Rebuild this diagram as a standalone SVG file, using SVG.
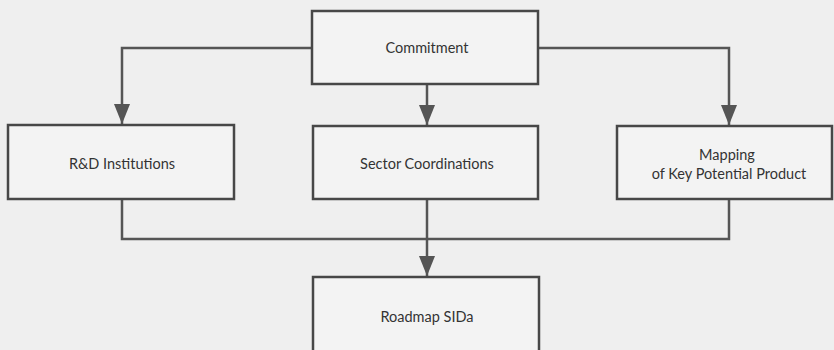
<svg xmlns="http://www.w3.org/2000/svg" width="834" height="350" viewBox="0 0 834 350">
<defs>
<marker id="ah" markerWidth="22" markerHeight="18" refX="20" refY="8" orient="auto" markerUnits="userSpaceOnUse">
<path d="M0,0 L20,8 L0,16 Z" fill="#555"/>
</marker>
<style>
.box{fill:#f3f3f3;stroke:#474747;stroke-width:2.5}
.lbl{font-family:Lato,"Open Sans",sans-serif;font-size:14.5px;fill:#333;text-anchor:middle}
.con{fill:none;stroke:#555;stroke-width:2.5}
</style>
</defs>
<rect width="834" height="350" fill="#efefef"/>
<g id="connectors">
<path class="con" d="M312,48 H122 V124" marker-end="url(#ah)"/>
<path class="con" d="M427,84 V125" marker-end="url(#ah)"/>
<path class="con" d="M538,48 H729 V125" marker-end="url(#ah)"/>
<path class="con" d="M122,199 V239 H729 V199"/>
<path class="con" d="M427,199 V276" marker-end="url(#ah)"/>
</g>
<g id="commitment">
<rect class="box" x="312" y="11" width="226" height="73"/>
<text class="lbl" x="427" y="53">Commitment</text>
</g>
<g id="rd">
<rect class="box" x="8" y="125" width="226" height="74"/>
<text class="lbl" x="122" y="169">R&amp;D Institutions</text>
</g>
<g id="sector">
<rect class="box" x="313" y="126" width="225" height="73"/>
<text class="lbl" x="427" y="169">Sector Coordinations</text>
</g>
<g id="mapping">
<rect class="box" x="617" y="126" width="215" height="73"/>
<text class="lbl" x="727" y="160">Mapping</text>
<text class="lbl" x="729" y="179">of Key Potential Product</text>
</g>
<g id="roadmap">
<rect class="box" x="313" y="277" width="226" height="90"/>
<text class="lbl" x="427" y="322">Roadmap SIDa</text>
</g>
</svg>
